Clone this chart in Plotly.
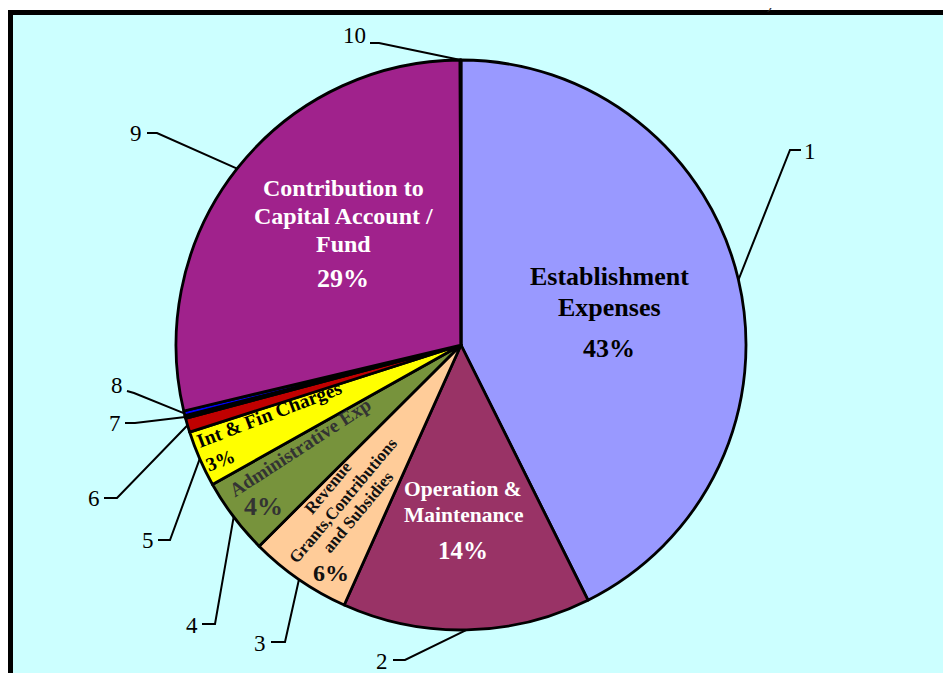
import math
import plotly.graph_objects as go

# ---------------- data ----------------
categories = [
    "Establishment Expenses",
    "Operation & Maintenance",
    "Revenue Grants,Contributions and Subsidies",
    "Administrative Exp",
    "Int & Fin Charges",
    "Item 6",
    "Item 7",
    "Item 8",
    "Contribution to Capital Account / Fund",
    "Item 10",
]
slice_numbers = ["1", "2", "3", "4", "5", "6", "7", "8", "9", "10"]
values = [42.65, 14.07, 5.81, 4.33, 3.20, 0.80, 0.15, 0.27, 28.67, 0.05]
slice_colors = ["#9999FF", "#993366", "#FFCC99", "#77933C", "#FFFF00",
                "#C00000", "#111111", "#0000FF", "#A0228C", "#660066"]

# names as shown inside the slices (one entry per line)
inside_names = {
    0: ["Establishment", "Expenses"],
    1: ["Operation &", "Maintenance"],
    2: ["Revenue", "Grants,Contributions", "and Subsidies"],
    3: ["Administrative Exp"],
    4: ["Int & Fin Charges"],
    8: ["Contribution to", "Capital Account /", "Fund"],
}

# ---------------- layout constants ----------------
PAGE_OFF = 8               # browser body margin
W, H = 951 - PAGE_OFF, 673 - PAGE_OFF
CX, CY, R = 461, 345, 285  # pie centre / radius in page pixels
FONT = "Liberation Serif, Times New Roman, serif"

total = sum(values)
pcts = [f"{round(v / total * 100)}%" for v in values]


def px(x):
    return (x - PAGE_OFF) / W


def py(y):
    return 1 - (y - PAGE_OFF) / H


def edge_point(i):
    cum = sum(values[:i]) + values[i] / 2
    a = 2 * math.pi * cum / total
    return CX + R * math.sin(a), CY - R * math.cos(a)


fig = go.Figure()
fig.add_trace(go.Pie(
    labels=categories,
    values=values,
    sort=False,
    direction="clockwise",
    rotation=0,
    marker=dict(colors=slice_colors, line=dict(color="black", width=2.8)),
    textinfo="none",
    hoverinfo="label+percent",
    showlegend=False,
    domain=dict(x=[px(CX - R), px(CX + R)], y=[py(CY + R), py(CY - R)]),
))

annotations = []
shapes = []

# frame
shapes.append(dict(type="rect", xref="paper", yref="paper", layer="below",
                   x0=px(10.5), y0=py(12.5), x1=px(1000), y1=py(720),
                   fillcolor="#CCFFFF", line=dict(color="black", width=5)))


def add_block(lines, dx, dy, size, color, angle, spacing):
    """Centre-aligned block of lines, each line its own annotation."""
    t = math.radians(angle)
    down = (-math.sin(t), math.cos(t))
    n = len(lines)
    for k, line in enumerate(lines):
        off = (k - (n - 1) / 2) * spacing
        x = CX + dx + down[0] * off
        y = CY + dy + down[1] * off
        annotations.append(dict(
            x=px(x), y=py(y), xref="paper", yref="paper",
            text=line, showarrow=False, textangle=angle,
            xanchor="center", yanchor="middle",
            font=dict(family=FONT, size=size, color=color, weight="bold"),
        ))


# (lines, dx, dy, size, colour, angle, line spacing)
add_block(inside_names[0], 148, -53, 26, "black", 0, 30.5)
add_block([pcts[0]], 148, 3, 26, "black", 0, 0)
add_block(inside_names[1], 2, 157, 21.5, "white", 0, 26.6)
add_block([pcts[1]], 2, 205, 25, "white", 0, 0)
add_block(inside_names[8], -118, -129, 24, "white", 0, 28.3)
add_block([pcts[8]], -118, -67, 26, "white", 0, 0)
add_block(inside_names[2], -118, 155, 17, "#111111", -50, 19)
add_block([pcts[2]], -130, 228, 24, "#111111", 0, 0)
add_block(inside_names[3], -161, 102, 19.5, "#333333", -33, 0)
add_block([pcts[3]], -198, 161, 26, "#333333", 0, 0)

# left-aligned rotated two-line label for slice 5
annotations.append(dict(
    x=px(CX - 187), y=py(CY + 81), xref="paper", yref="paper",
    text=inside_names[4][0] + "<br>" + pcts[4], showarrow=False,
    textangle=-21, align="left", xanchor="center", yanchor="middle",
    font=dict(family=FONT, size=19.5, color="black", weight="bold"),
))

# outside number labels with leader lines (label centre, elbow, dash end) in page px
number_xy = [(810, 151), (382, 661), (260, 643), (192, 625), (148, 540),
             (94, 498), (115, 423), (117, 385), (136, 133), (354, 35)]
elbow_xy = [(790, 150), (405, 660), (285, 642), (215, 624), (170, 540),
            (117, 498), (135, 423), (134, 393), (157, 133), (379, 43)]
dash_xy = [(801, 150), (393, 660), (271, 642), (202, 624), (158, 540),
           (104, 498), (125, 423), (127, 391), (147, 133), (370, 43)]

for i, num in enumerate(slice_numbers):
    ex, ey = edge_point(i)
    bx, by = elbow_xy[i]
    dx_, dy_ = dash_xy[i]
    shapes.append(dict(
        type="path", xref="paper", yref="paper",
        path=f"M {px(ex)},{py(ey)} L {px(bx)},{py(by)} L {px(dx_)},{py(dy_)}",
        line=dict(color="black", width=2),
    ))
    lx, ly = number_xy[i]
    annotations.append(dict(
        x=px(lx), y=py(ly), xref="paper", yref="paper", text=num,
        showarrow=False, xanchor="center", yanchor="middle",
        font=dict(family=FONT, size=23, color="black"),
    ))

# clipped fragment of text above the frame
annotations.append(dict(x=px(770), y=py(2), xref="paper", yref="paper", text=")",
                        showarrow=False, xanchor="center", yanchor="middle",
                        font=dict(family=FONT, size=18, color="#333333")))

fig.update_layout(
    width=W, height=H, autosize=False,
    margin=dict(l=0, r=0, t=0, b=0),
    paper_bgcolor="white", plot_bgcolor="white",
    shapes=shapes, annotations=annotations,
    showlegend=False,
)

fig.write_html("out.html")
